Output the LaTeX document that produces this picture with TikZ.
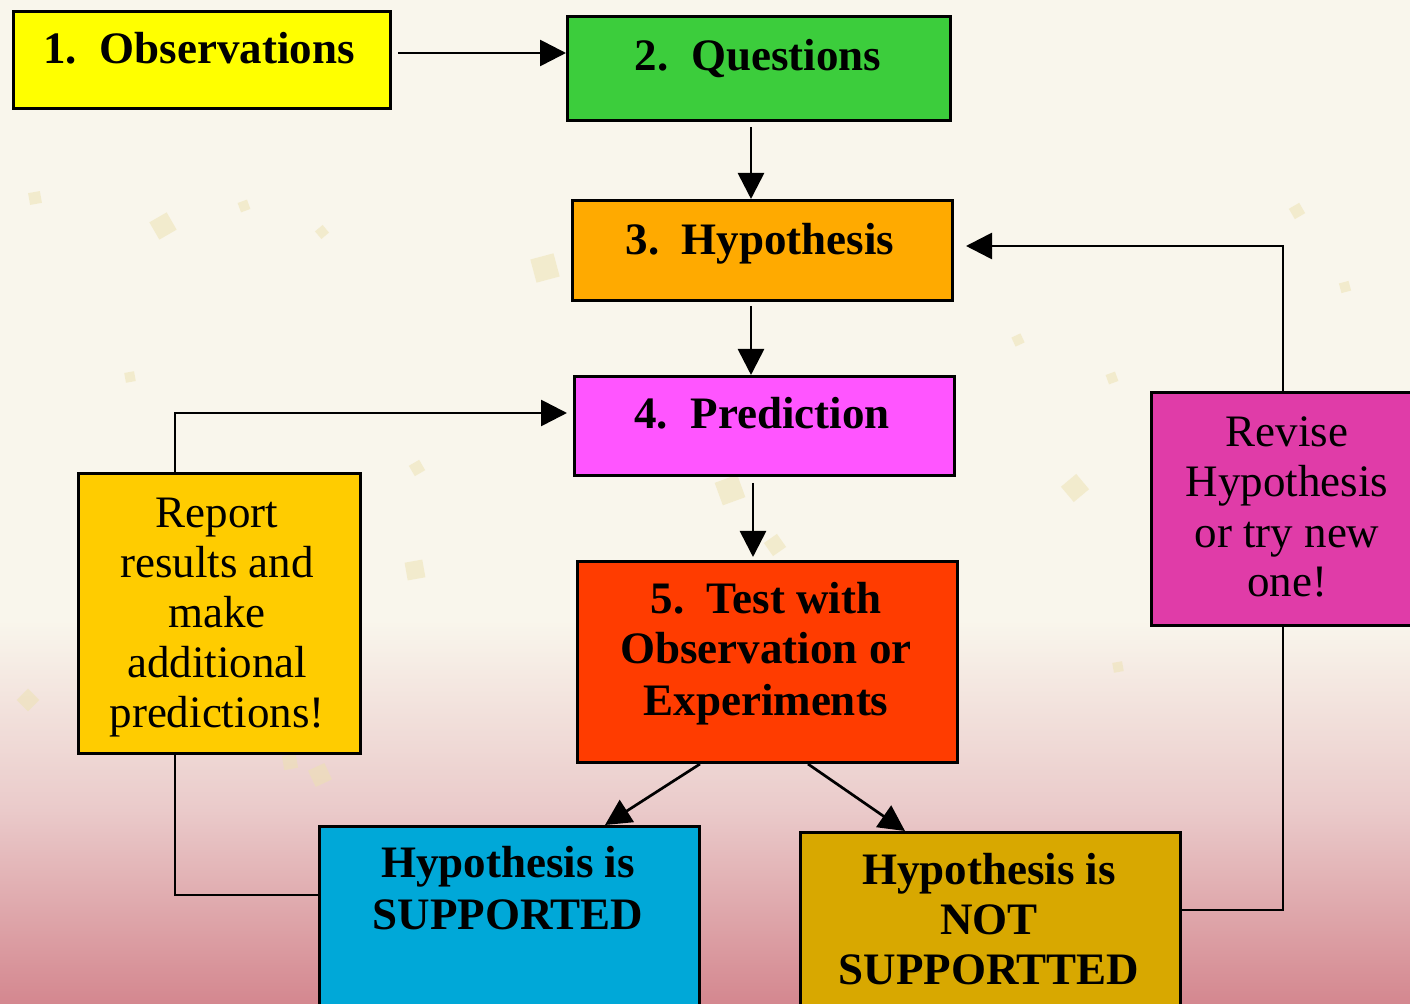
\documentclass[tikz,border=0pt]{standalone}
\usepackage{fontspec}
\setmainfont{Liberation Serif}
\usetikzlibrary{arrows.meta,calc}
\definecolor{bgcream}{HTML}{F9F6EC}
\definecolor{bgmid}{HTML}{EACACA}
\definecolor{bgpink}{HTML}{D4878F}
\definecolor{cobs}{HTML}{FFFF00}
\definecolor{cq}{HTML}{3CCD3C}
\definecolor{ch}{HTML}{FFAA00}
\definecolor{cp}{HTML}{FF55FF}
\definecolor{ct}{HTML}{FF3C00}
\definecolor{crep}{HTML}{FFCC00}
\definecolor{crev}{HTML}{E03CA8}
\definecolor{csup}{HTML}{00A8D8}
\definecolor{cns}{HTML}{D8A800}
\definecolor{confetti}{HTML}{EDE2B0}
\begin{document}
\begin{tikzpicture}[x=0.5pt,y=-0.5pt,
  box/.style={draw=black, line width=1.5pt, inner sep=0, anchor=north west},
  bt/.style={font=\fontsize{22.5}{25}\selectfont\bfseries, anchor=base, inner sep=0},
  rt/.style={font=\fontsize{22.5}{25}\selectfont, anchor=base, inner sep=0},
  conn/.style={draw=black, line width=1.35pt},
  arr/.style={conn, -{Triangle[length=13pt,width=13pt]}},
  conf/.style={fill=confetti, opacity=0.5}
]
\useasboundingbox (0,0) rectangle (1410,1004);
\begin{scope}
\clip (0,0) rectangle (1410,1004);
% background
\fill[bgcream] (0,0) rectangle (1410,621);
\shade[top color=bgcream, bottom color=bgmid] (0,620) rectangle (1410,811);
\shade[top color=bgmid, bottom color=bgpink] (0,810) rectangle (1410,1004);
% confetti
\foreach \cx/\cy/\ca/\cs in {163/226/30/10, 545/268/15/12, 1075/488/40/10, 730/490/20/12, 775/545/35/8,
  415/570/10/9, 320/775/25/9, 290/762/10/7, 28/700/45/8, 1297/211/30/6, 1112/378/20/5, 35/198/10/6,
  322/232/40/5, 244/206/20/5, 1345/287/15/5, 1018/340/25/5, 130/377/10/5, 417/468/30/6, 1118/667/10/5}
  \fill[conf, rotate around={\ca:(\cx,\cy)}] (\cx-\cs,\cy-\cs) rectangle (\cx+\cs,\cy+\cs);
% boxes
\node[box, fill=cobs, minimum width=188.5pt, minimum height=48.5pt] (obs) at (12,10) {};
\node[box, fill=cq, minimum width=191.5pt, minimum height=52pt] (q) at (566,15) {};
\node[box, fill=ch, minimum width=190pt, minimum height=50pt] (h) at (571,199) {};
\node[box, fill=cp, minimum width=190pt, minimum height=49.5pt] (p) at (573,375) {};
\node[box, fill=ct, minimum width=190pt, minimum height=100.5pt] (t) at (576,560) {};
\node[box, fill=crep, minimum width=141pt, minimum height=140pt] (rep) at (77,472) {};
\node[box, fill=crev, minimum width=140pt, minimum height=116.5pt] (rev) at (1150,391) {};
\node[box, fill=csup, minimum width=190pt, minimum height=100pt] (sup) at (318,825) {};
\node[box, fill=cns, minimum width=190pt, minimum height=100pt] (ns) at (799,831) {};
% texts
\node[bt] (tobs) at (199,64) {1.~~Observations};
\node[bt] (tq) at (758,71) {2.~~Questions};
\node[bt] (th) at (760,255) {3.~~Hypothesis};
\node[bt] (tp) at (762,429) {4.~~Prediction};
\node[bt] (tt1) at (766,614) {5.~~Test with};
\node[bt] (tt2) at (766,664) {Observation or};
\node[bt] (tt3) at (766,716) {Experiments};
\node[rt] (tr1) at (217,528) {Report};
\node[rt] (tr2) at (217,578) {results and};
\node[rt] (tr3) at (217,628) {make};
\node[rt] (tr4) at (217,678) {additional};
\node[rt] (tr5) at (217,728) {predictions!};
\node[rt] (tv1) at (1287,447) {Revise};
\node[rt] (tv2) at (1287,497) {Hypothesis};
\node[rt] (tv3) at (1287,548) {or try new};
\node[rt] (tv4) at (1287,597) {one!};
\node[bt] (ts1) at (508,878) {Hypothesis is};
\node[bt] (ts2) at (508,930) {SUPPORTED};
\node[bt] (tn1) at (989,885) {Hypothesis is};
\node[bt] (tn2) at (989,935) {NOT};
\node[bt] (tn3) at (989,985) {SUPPORTTED};
% connectors
\draw[arr, shorten <=3pt] (obs.east |- 0,53) -- (q.west |- 0,53);
\draw[arr, shorten <=2.5pt] (q.south -| 751,0) -- (h.north -| 751,0);
\draw[arr, shorten <=2pt] (h.south -| 751,0) -- (p.north -| 751,0);
\draw[arr, shorten <=3pt, shorten >=1.5pt] (p.south -| 753,0) -- (t.north -| 753,0);
\draw[arr] (t.south -| 700,0) -- (sup.north -| 605,0);
\draw[arr] (t.south -| 808,0) -- (ns.north -| 905,0);
\draw[arr, shorten >=3pt] (rep.north -| 175,0) |- (p.west |- 0,413);
\draw[conn] (rep.south -| 175,0) |- (sup.west |- 0,895);
\draw[conn] (ns.east |- 0,910) -| (rev.south -| 1283,0);
\draw[arr, shorten >=6pt] (rev.north -| 1283,0) |- (h.east |- 0,246);
\end{scope}
\end{tikzpicture}
\end{document}
